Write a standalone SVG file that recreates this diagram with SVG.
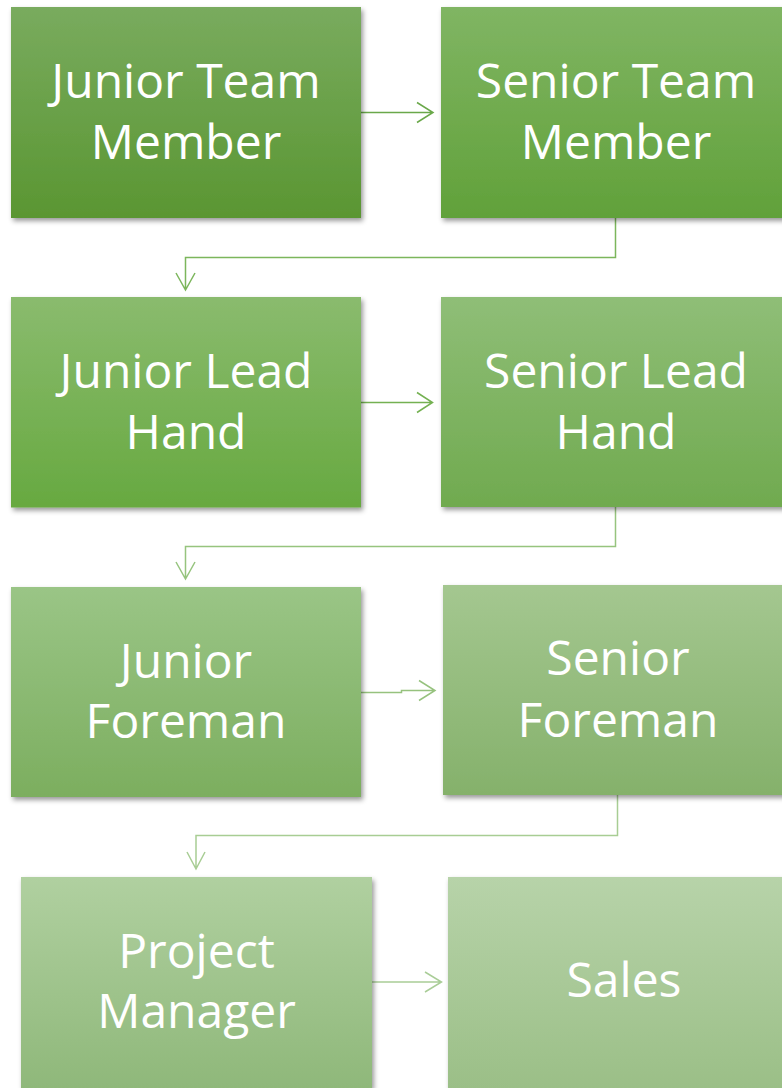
<svg xmlns="http://www.w3.org/2000/svg" width="782" height="1088" viewBox="0 0 782 1088">
<style>
.lbl{font-family:"Open Sans","Liberation Sans",sans-serif;font-size:48px;fill:#ffffff;text-anchor:middle}
.c{fill:none;stroke-width:1.5}
</style>
<defs>
<filter id="sh" x="-10%" y="-10%" width="125%" height="125%">
<feDropShadow dx="2" dy="3" stdDeviation="2.5" flood-color="#000" flood-opacity="0.4"/>
</filter>
<linearGradient id="g1" x1="0" y1="0" x2="0" y2="1"><stop offset="0" stop-color="#79ab5e"/><stop offset="1" stop-color="#5a9632"/></linearGradient>
<linearGradient id="g2" x1="0" y1="0" x2="0" y2="1"><stop offset="0" stop-color="#80b563"/><stop offset="1" stop-color="#61a13a"/></linearGradient>
<linearGradient id="g3" x1="0" y1="0" x2="0" y2="1"><stop offset="0" stop-color="#8abb6e"/><stop offset="1" stop-color="#67a940"/></linearGradient>
<linearGradient id="g4" x1="0" y1="0" x2="0" y2="1"><stop offset="0" stop-color="#8fbe77"/><stop offset="1" stop-color="#70aa4f"/></linearGradient>
<linearGradient id="g5" x1="0" y1="0" x2="0" y2="1"><stop offset="0" stop-color="#9ac586"/><stop offset="1" stop-color="#7cae5f"/></linearGradient>
<linearGradient id="g6" x1="0" y1="0" x2="0" y2="1"><stop offset="0" stop-color="#a4c790"/><stop offset="1" stop-color="#85b16b"/></linearGradient>
<linearGradient id="g7" x1="0" y1="0" x2="0" y2="1"><stop offset="0" stop-color="#b0d0a0"/><stop offset="1" stop-color="#8fb87a"/></linearGradient>
<linearGradient id="g8" x1="0" y1="0" x2="0" y2="1"><stop offset="0" stop-color="#b7d3a9"/><stop offset="1" stop-color="#9bbf87"/></linearGradient>
</defs>
<g id="connectors">
<path class="c" stroke="#6aa84a" d="M361 112.5H433M417 102.5L433 112.5L417 122.5"/>
<path class="c" stroke="#7cb65c" d="M615.5 218V257.5H185.5V290M176 273L185.5 290L195 273"/>
<path class="c" stroke="#74b152" d="M361 402.5H432.5M417 392.5L432.5 402.5L417 412.5"/>
<path class="c" stroke="#96c47e" d="M615.5 507V546.5H185.5V579M176 562L185.5 579L195 562"/>
<path class="c" stroke="#96c27e" d="M361 692.5H401.5V690.5H435M419 680.5L435 690.5L419 700.5"/>
<path class="c" stroke="#a8cd94" d="M617.5 795V835.5H196V869M187 852L196 869L205 852"/>
<path class="c" stroke="#a9cd97" d="M372 982H441.5M425 972L441.5 982L425 992"/>
</g>
<g id="n1"><rect x="11" y="7" width="350" height="211" fill="url(#g1)" filter="url(#sh)"/><text class="lbl" x="186" y="98">Junior Team</text><text class="lbl" x="186" y="159">Member</text></g>
<g id="n2"><rect x="441" y="7" width="350" height="211" fill="url(#g2)" filter="url(#sh)"/><text class="lbl" x="616" y="98">Senior Team</text><text class="lbl" x="616" y="159">Member</text></g>
<g id="n3"><rect x="11" y="297" width="350" height="210.5" fill="url(#g3)" filter="url(#sh)"/><text class="lbl" x="186" y="388">Junior Lead</text><text class="lbl" x="186" y="449">Hand</text></g>
<g id="n4"><rect x="441" y="297" width="350" height="210" fill="url(#g4)" filter="url(#sh)"/><text class="lbl" x="616" y="388">Senior Lead</text><text class="lbl" x="616" y="449">Hand</text></g>
<g id="n5"><rect x="11" y="587" width="350" height="210" fill="url(#g5)" filter="url(#sh)"/><text class="lbl" x="186" y="678">Junior</text><text class="lbl" x="186" y="738">Foreman</text></g>
<g id="n6"><rect x="443" y="585" width="350" height="210" fill="url(#g6)" filter="url(#sh)"/><text class="lbl" x="618" y="675">Senior</text><text class="lbl" x="618" y="737">Foreman</text></g>
<g id="n7"><rect x="21" y="877" width="351" height="211" fill="url(#g7)" filter="url(#sh)"/><text class="lbl" x="196.5" y="968">Project</text><text class="lbl" x="196.5" y="1028">Manager</text></g>
<g id="n8"><rect x="448" y="877" width="350" height="211" fill="url(#g8)" filter="url(#sh)"/><text class="lbl" x="624" y="997">Sales</text></g>
</svg>
